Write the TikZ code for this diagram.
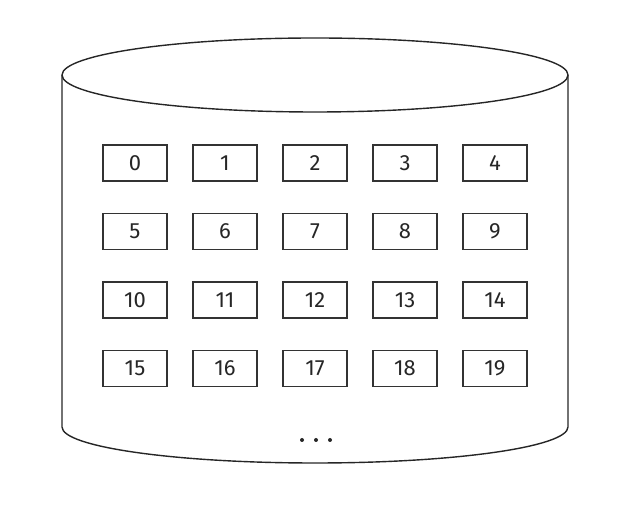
\documentclass[tikz,border=0pt]{standalone}
\usepackage{fontspec}
\setmainfont{Fira Sans}
\begin{document}
\begin{tikzpicture}[x=1pt,y=1pt,
  cyl/.style={draw=black!85,line width=1.4pt},
  cell/.style={draw=black!80,line width=1.6pt,minimum width=64pt,minimum height=36pt,inner sep=0pt,font=\fontsize{22}{22}\selectfont,text=black!85},
  dot/.style={circle,fill=black!85,inner sep=0pt,minimum size=4pt}]
\useasboundingbox (0,0) rectangle (632,508);
\draw[cyl] (315,433) ellipse [x radius=253,y radius=37];
\draw[cyl] (62,433) -- (62,81) arc[start angle=180,end angle=360,x radius=253,y radius=36] -- (568,433);
\foreach \r in {0,1,2,3}{
  \foreach \c in {0,1,2,3,4}{
    \pgfmathtruncatemacro{\n}{5*\r+\c}
    \pgfmathsetmacro{\xx}{135+90*\c}
    \pgfmathsetmacro{\yy}{345-68.5*\r}
    \node[cell] (b\n) at (\xx,\yy) {\n};
  }
}
\node[dot] (d1) at (302,68) {};
\node[dot] (d2) at (316,68) {};
\node[dot] (d3) at (330,68) {};
\end{tikzpicture}
\end{document}
